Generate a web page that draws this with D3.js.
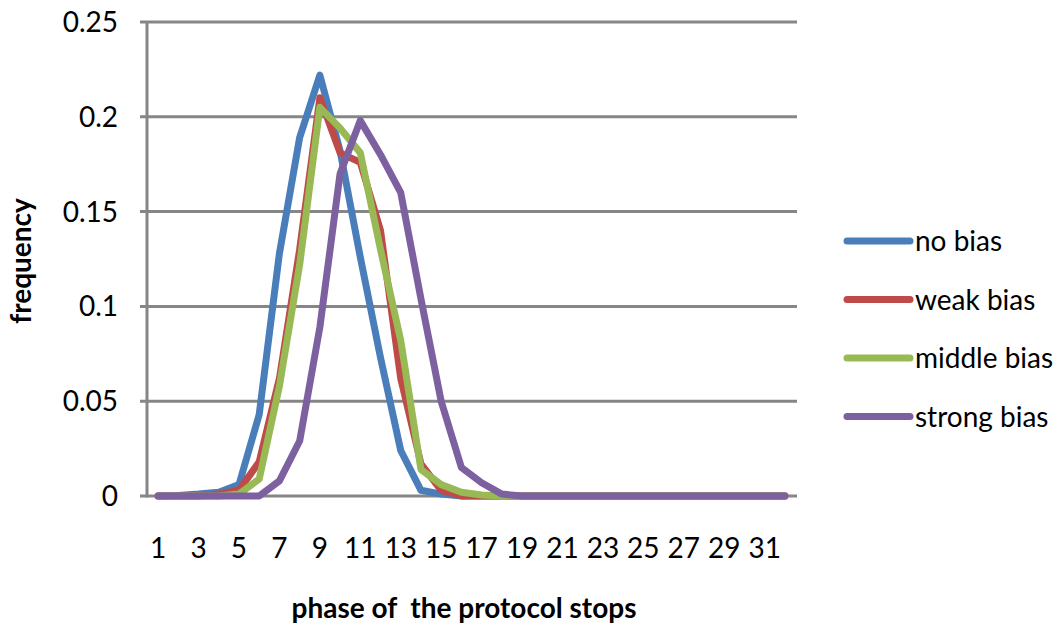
<!DOCTYPE html>
<html>
<head>
<meta charset="utf-8">
<script src="https://cdn.jsdelivr.net/npm/d3@7"></script>
<style>
  body { margin: 0; background: #fff; }
  svg text { font-family: Lato, "Open Sans", sans-serif; fill: #000; white-space: pre; }
</style>
</head>
<body>
<svg id="chart" width="1064" height="627"></svg>
<script>
// categories = phase 1..32
const phases = d3.range(1, 33);
const tickLabels = phases.filter(d => d % 2 === 1);
const yTicks = [0, 0.05, 0.1, 0.15, 0.2, 0.25];

const seriesNames = ["no bias", "weak bias", "middle bias", "strong bias"];
const seriesColors = ["#4a7ebb", "#be4b48", "#98b954", "#7d60a0"];

// values
const noBias = [0, 0.0003, 0.001, 0.002, 0.006, 0.043, 0.128, 0.189, 0.222, 0.182, 0.126, 0.073, 0.024, 0.003, 0.001, 0,
  0, 0, 0, 0, 0, 0, 0, 0, 0, 0, 0, 0, 0, 0, 0, 0];
const weakBias = [0, 0, 0, 0.001, 0.003, 0.018, 0.062, 0.13, 0.21, 0.181, 0.176, 0.14, 0.062, 0.017, 0.003, 0,
  0, 0, 0, 0, 0, 0, 0, 0, 0, 0, 0, 0, 0, 0, 0, 0];
const middleBias = [0, 0, 0, 0, 0.001, 0.009, 0.058, 0.122, 0.205, 0.194, 0.181, 0.13, 0.082, 0.014, 0.006, 0.002,
  0.0005, 0, 0, 0, 0, 0, 0, 0, 0, 0, 0, 0, 0, 0, 0, 0];
const strongBias = [0, 0, 0, 0, 0, 0, 0.008, 0.029, 0.089, 0.17, 0.198, 0.18, 0.16, 0.104, 0.05, 0.015,
  0.007, 0.001, 0, 0, 0, 0, 0, 0, 0, 0, 0, 0, 0, 0, 0, 0];

const allSeries = [noBias, weakBias, middleBias, strongBias];

const svg = d3.select("#chart");
const plotLeft = 148, plotRight = 795, plotTop = 22, plotBottom = 496;
const fontSize = 28;

const x = d3.scaleBand().domain(phases).range([plotLeft, plotRight]);
const y = d3.scaleLinear().domain([0, 0.25]).range([plotBottom, plotTop]);

// gridlines
svg.append("g")
  .selectAll("line")
  .data(yTicks)
  .join("line")
  .attr("x1", plotLeft - 8)
  .attr("x2", plotRight + 2)
  .attr("y1", d => y(d))
  .attr("y2", d => y(d))
  .attr("stroke", "#868686")
  .attr("stroke-width", 3);

// y axis line
svg.append("line")
  .attr("x1", plotLeft - 1).attr("x2", plotLeft - 1)
  .attr("y1", plotTop).attr("y2", plotBottom + 1.5)
  .attr("stroke", "#868686")
  .attr("stroke-width", 3);

// y tick labels
svg.append("g")
  .selectAll("text")
  .data(yTicks)
  .join("text")
  .attr("x", 118)
  .attr("y", d => y(d))
  .attr("dy", "0.36em")
  .attr("text-anchor", "end")
  .attr("font-size", fontSize)
  .text(d => d);

// x tick labels
svg.append("g")
  .selectAll("text")
  .data(tickLabels)
  .join("text")
  .attr("x", d => x(d) + x.bandwidth() / 2)
  .attr("y", 558)
  .attr("text-anchor", "middle")
  .attr("font-size", fontSize)
  .text(d => d);

// axis titles
svg.append("text")
  .attr("x", 464).attr("y", 618)
  .attr("text-anchor", "middle")
  .attr("font-size", fontSize)
  .attr("font-weight", "bold")
  .text("phase of  the protocol stops");

svg.append("text")
  .attr("transform", "translate(31,261) rotate(-90)")
  .attr("text-anchor", "middle")
  .attr("font-size", fontSize)
  .attr("font-weight", "bold")
  .text("frequency");

// series lines
const line = d3.line()
  .x((d, i) => x(phases[i]) + x.bandwidth() / 2)
  .y(d => y(d));

svg.append("g")
  .selectAll("path")
  .data(allSeries)
  .join("path")
  .attr("d", line)
  .attr("fill", "none")
  .attr("stroke", (d, i) => seriesColors[i])
  .attr("stroke-width", 7)
  .attr("stroke-linejoin", "round")
  .attr("stroke-linecap", "round");

// legend
const legend = svg.append("g")
  .selectAll("g")
  .data(seriesNames)
  .join("g")
  .attr("transform", (d, i) => `translate(0,${241 + i * 58.5})`);

legend.append("line")
  .attr("x1", 847).attr("x2", 910)
  .attr("stroke", (d, i) => seriesColors[i])
  .attr("stroke-width", 7)
  .attr("stroke-linecap", "round");

legend.append("text")
  .attr("x", 915)
  .attr("dy", "0.36em")
  .attr("font-size", fontSize)
  .text(d => d);
</script>
</body>
</html>
